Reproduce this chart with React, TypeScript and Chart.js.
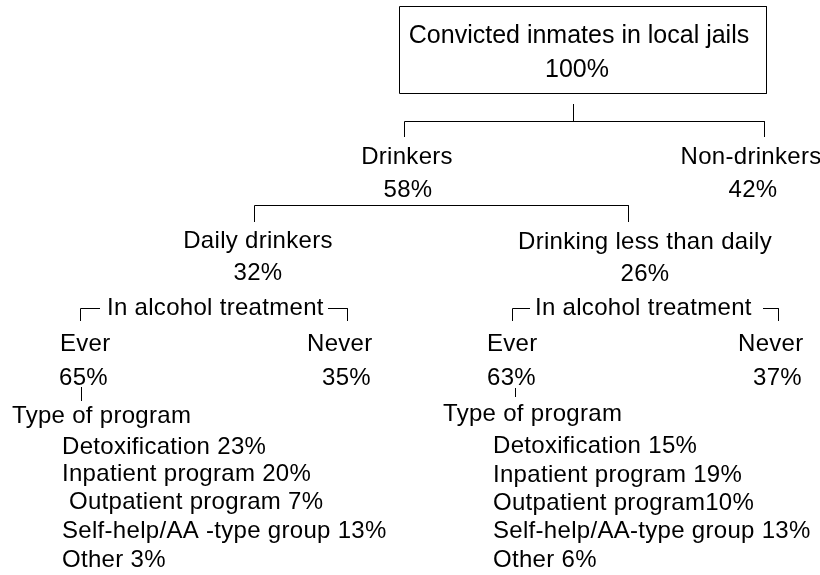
import React, { useEffect, useRef } from "react";
import { Chart, registerables } from "chart.js";

Chart.register(...registerables);

// ---- data ----
const rootLabel = "Convicted inmates in local jails";
const rootValue = 100;
const drinkLabels = ["Drinkers", "Non-drinkers"];
const drinkValues = [58, 42];
const frequencyLabels = ["Daily drinkers", "Drinking less than daily"];
const frequencyValues = [32, 26];
const treatmentHeading = "In alcohol treatment";
const treatmentLabels = ["Ever", "Never"];
const dailyTreatmentValues = [65, 35];
const lessDailyTreatmentValues = [63, 37];
const programHeading = "Type of program";
const dailyProgramLabels = ["Detoxification ", "Inpatient program ", " Outpatient program ", "Self-help/AA -type group ", "Other "];
const dailyProgramValues = [23, 20, 7, 13, 3];
const lessDailyProgramLabels = ["Detoxification ", "Inpatient program ", "Outpatient program", "Self-help/AA-type group ", "Other "];
const lessDailyProgramValues = [15, 19, 10, 13, 6];

const pct = (v: number) => `${v}%`;
const FONT = '"Liberation Sans", Arial, sans-serif';

type TextItem = { text: string; x: number; y: number; align: CanvasTextAlign; size: number };

function buildTexts(): TextItem[] {
  const t: TextItem[] = [];
  const c = (text: string, x: number, y: number, size = 24) => t.push({ text, x, y, align: "center", size });
  const l = (text: string, x: number, y: number, size = 24) => t.push({ text, x, y, align: "left", size });
  // root
  c(rootLabel, 579, 36, 25);
  c(pct(rootValue), 577, 70, 25);
  // drinkers / non-drinkers
  const drinkX = [407, 751];
  drinkLabels.forEach((lab, i) => {
    c(lab, drinkX[i], 157);
    c(pct(drinkValues[i]), drinkX[i] + (i === 1 ? 2 : 1), 190);
  });
  // frequency
  const freqX = [258, 645];
  frequencyLabels.forEach((lab, i) => {
    c(lab, freqX[i], 241 + i);
    c(pct(frequencyValues[i]), freqX[i], 273 + i);
  });
  // treatment headings
  l(treatmentHeading, 107, 308);
  l(treatmentHeading, 535, 308);
  // ever / never
  const leftTreatX = [60, 307];
  const rightTreatX = [487, 738];
  const leftPctX = [59, 322];
  const rightPctX = [487, 753];
  treatmentLabels.forEach((lab, i) => {
    l(lab, leftTreatX[i], 344);
    l(lab, rightTreatX[i], 344);
    l(pct(dailyTreatmentValues[i]), leftPctX[i], 378);
    l(pct(lessDailyTreatmentValues[i]), rightPctX[i], 378);
  });
  // program heading
  l(programHeading, 12, 416);
  l(programHeading, 443, 414);
  const leftY = [447, 474, 502, 531, 560];
  const rightY = [446, 475, 503, 531, 560];
  dailyProgramLabels.forEach((lab, i) => l(lab + pct(dailyProgramValues[i]), 62, leftY[i]));
  lessDailyProgramLabels.forEach((lab, i) => l(lab + pct(lessDailyProgramValues[i]), 493, rightY[i]));
  return t;
}

type P = { x: number; y: number };
function buildLines(): P[][] {
  const r = (pts: number[][]) => pts.map(([x, y]) => ({ x, y }));
  return [
    // root box
    r([[399.5, 6.5], [766.5, 6.5], [766.5, 93.5], [399.5, 93.5], [399.5, 6.5]]),
    // root stem
    r([[573.5, 104], [573.5, 121.5]]),
    // drinkers bracket
    r([[404.5, 137], [404.5, 121.5], [764.5, 121.5], [764.5, 137]]),
    // frequency bracket
    r([[254.5, 222], [254.5, 205.5], [628.5, 205.5], [628.5, 222]]),
    // left treatment bracket
    r([[80.5, 321], [80.5, 308.5], [100, 308.5]]),
    r([[328, 308.5], [347.5, 308.5], [347.5, 321]]),
    // right treatment bracket
    r([[512.5, 321], [512.5, 308.5], [530, 308.5]]),
    r([[763, 308.5], [778.5, 308.5], [778.5, 321]]),
    // program stems
    r([[81.5, 387], [81.5, 401]]),
    r([[515.5, 388], [515.5, 397]]),
  ];
}

const textPlugin = {
  id: "treeText",
  afterDatasetsDraw(chart: any) {
    const { ctx, scales } = chart;
    const xs = scales.x;
    const ys = scales.y;
    ctx.save();
    ctx.fillStyle = "#000";
    ctx.textBaseline = "middle";
    for (const it of buildTexts()) {
      ctx.font = `${it.size}px ${FONT}`;
      try {
        (ctx as any).letterSpacing = it.size === 24 ? "0.3px" : "0px";
      } catch (e) {}
      ctx.textAlign = it.align;
      ctx.fillText(it.text, xs.getPixelForValue(it.x), ys.getPixelForValue(it.y));
    }
    ctx.restore();
  },
};

export default function App() {
  const ref = useRef<HTMLCanvasElement | null>(null);
  useEffect(() => {
    document.body.style.margin = "0";
    document.body.style.background = "#fff";
    if (!ref.current) return;
    const chart = new Chart(ref.current, {
      type: "scatter",
      data: {
        datasets: buildLines().map((pts) => ({
          type: "line" as const,
          data: pts,
          showLine: true,
          borderColor: "#000",
          borderWidth: 1,
          pointRadius: 0,
          fill: false,
          tension: 0,
        })),
      },
      options: {
        animation: false,
        responsive: false,
        events: [],
        layout: { padding: 0 },
        plugins: { legend: { display: false }, tooltip: { enabled: false } },
        scales: {
          x: { type: "linear", min: 0, max: 820, display: false },
          y: { type: "linear", min: 0, max: 575, reverse: true, display: false },
        },
      },
      plugins: [textPlugin],
    });
    return () => chart.destroy();
  }, []);
  return (
    <div style={{ width: 820, height: 575, background: "#fff" }}>
      <canvas ref={ref} width={820} height={575} />
    </div>
  );
}
